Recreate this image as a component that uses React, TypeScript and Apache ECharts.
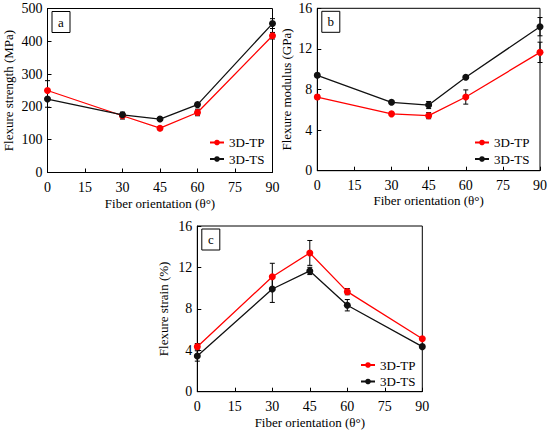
import React, { useEffect, useRef } from "react";
import * as echarts from "echarts";

const angles = [0, 30, 45, 60, 90];
const seriesNames = ["3D-TP", "3D-TS"];

const strengthTP = [250, 173, 135, 183, 417];
const strengthTPErr = [30, 10, 5, 10, 10];
const strengthTS = [224, 176, 163, 207, 454];
const strengthTSErr = [25, 8, 4, 6, 15];

const modulusTP = [7.26, 5.6, 5.42, 7.26, 11.66];
const modulusTPErr = [0.2, 0.15, 0.3, 0.7, 1.0];
const modulusTS = [9.4, 6.74, 6.47, 9.2, 14.19];
const modulusTSErr = [0.2, 0.15, 0.35, 0.1, 0.9];

const strainTP = [4.35, 11.1, 13.4, 9.66, 5.12];
const strainTPErr = [0.3, 1.3, 1.2, 0.3, 0.1];
const strainTS = [3.45, 9.92, 11.66, 8.35, 4.35];
const strainTSErr = [0.5, 1.3, 0.35, 0.55, 0.1];

const panelLetters = ["a", "b", "c"];
const yTitles = ["Flexure strength (MPa)", "Flexure modulus (GPa)", "Flexure strain (%)"];
const xTitle = "Fiber orientation (θ°)";
const yMax = [500, 16, 16];
const yInterval = [100, 4, 4];

const FONT = "'Liberation Serif', serif";
const RED = "#ff0000";
const BLACK = "#111111";

const grids = [
  { left: 47.5, top: 8.5, width: 225, height: 164 },
  { left: 317.3, top: 8.3, width: 223.7, height: 162.4 },
  { left: 197.3, top: 226, width: 225, height: 165.7 },
];
const yNameGaps = [33, 24, 27];
const xNameGaps = [24, 22, 24];
const legendPos = [
  { left: 209, top: 136 },
  { left: 474, top: 136 },
  { left: 360, top: 358.5 },
];

export default function App() {
  const ref = useRef<HTMLDivElement>(null);
  useEffect(() => {
    if (!ref.current) return;
    const chart = echarts.init(ref.current, undefined, { renderer: "svg" });
    const vals = [
      [strengthTP, strengthTS],
      [modulusTP, modulusTS],
      [strainTP, strainTS],
    ];
    const errs = [
      [strengthTPErr, strengthTSErr],
      [modulusTPErr, modulusTSErr],
      [strainTPErr, strainTSErr],
    ];
    const colors = [RED, BLACK];
    const series: any[] = [];
    for (let g = 0; g < 3; g++) {
      for (let s = 0; s < 2; s++) {
        series.push({
          type: "custom",
          xAxisIndex: g,
          yAxisIndex: g,
          silent: true,
          z: 3,
          encode: { x: 0, y: 1 },
          data: angles.map((a, i) => [a, vals[g][s][i], errs[g][s][i]]),
          renderItem: (params: any, api: any) => {
            const x = api.value(0);
            const y = api.value(1);
            const e = api.value(2);
            const hi = api.coord([x, y + e]);
            const lo = api.coord([x, y - e]);
            const w = 2.5;
            const st = { stroke: "#000", lineWidth: 1 };
            return {
              type: "group",
              children: [
                { type: "line", shape: { x1: hi[0], y1: hi[1], x2: lo[0], y2: lo[1] }, style: st },
                { type: "line", shape: { x1: hi[0] - w, y1: hi[1], x2: hi[0] + w, y2: hi[1] }, style: st },
                { type: "line", shape: { x1: lo[0] - w, y1: lo[1], x2: lo[0] + w, y2: lo[1] }, style: st },
              ],
            };
          },
        });
        series.push({
          type: "line",
          name: seriesNames[s],
          xAxisIndex: g,
          yAxisIndex: g,
          z: 4,
          data: angles.map((a, i) => [a, vals[g][s][i]]),
          symbol: "circle",
          symbolSize: 7,
          showSymbol: true,
          color: colors[s],
          lineStyle: { color: colors[s], width: 1.3 },
          itemStyle: { color: colors[s] },
        });
      }
    }
    const graphic: any[] = grids.map((gr, i) => ({
      type: "group",
      left: gr.left + 4,
      top: gr.top + 2.5,
      children: [
        { type: "rect", shape: { x: 0, y: 0, width: 18, height: 21 }, style: { fill: "#fff", stroke: "#000", lineWidth: 1 } },
        {
          type: "text",
          x: 9,
          y: 10.5,
          style: { text: panelLetters[i], fill: "#000", font: `13px ${FONT}`, align: "center", verticalAlign: "middle" },
        },
      ],
    }));
    chart.setOption({
      animation: false,
      textStyle: { fontFamily: FONT },
      grid: grids.map((g) => ({ ...g, show: true, borderColor: "#000", borderWidth: 1, containLabel: false })),
      legend: legendPos.map((p) => ({
        ...p,
        orient: "vertical",
        padding: 0,
        data: seriesNames,
        itemWidth: 14,
        itemHeight: 7,
        itemGap: 3.5,
        textStyle: { fontFamily: FONT, fontSize: 13, color: "#000" },
        selectedMode: false,
      })),
      xAxis: grids.map((_, i) => ({
        type: "value",
        gridIndex: i,
        min: 0,
        max: 90,
        interval: 15,
        name: xTitle,
        nameLocation: "middle",
        nameGap: xNameGaps[i],
        nameTextStyle: { fontFamily: FONT, fontSize: 13, color: "#000" },
        axisLine: { show: true, lineStyle: { color: "#000", width: 1 } },
        axisTick: { show: true, inside: true, length: 4, lineStyle: { color: "#000" } },
        axisLabel: { fontFamily: FONT, fontSize: 14, color: "#000", margin: 8 },
        splitLine: { show: false },
      })),
      yAxis: grids.map((_, i) => ({
        type: "value",
        gridIndex: i,
        min: 0,
        max: yMax[i],
        interval: yInterval[i],
        name: yTitles[i],
        nameLocation: "middle",
        nameGap: yNameGaps[i],
        nameTextStyle: { fontFamily: FONT, fontSize: 13, color: "#000" },
        axisLine: { show: true, lineStyle: { color: "#000", width: 1 } },
        axisTick: { show: true, inside: true, length: 4, lineStyle: { color: "#000" } },
        axisLabel: { fontFamily: FONT, fontSize: 14, color: "#000", margin: 5 },
        splitLine: { show: false },
      })),
      series,
      graphic,
    });
    return () => chart.dispose();
  }, []);
  return <div ref={ref} style={{ position: "absolute", left: 0, top: 0, width: 550, height: 434 }} />;
}
